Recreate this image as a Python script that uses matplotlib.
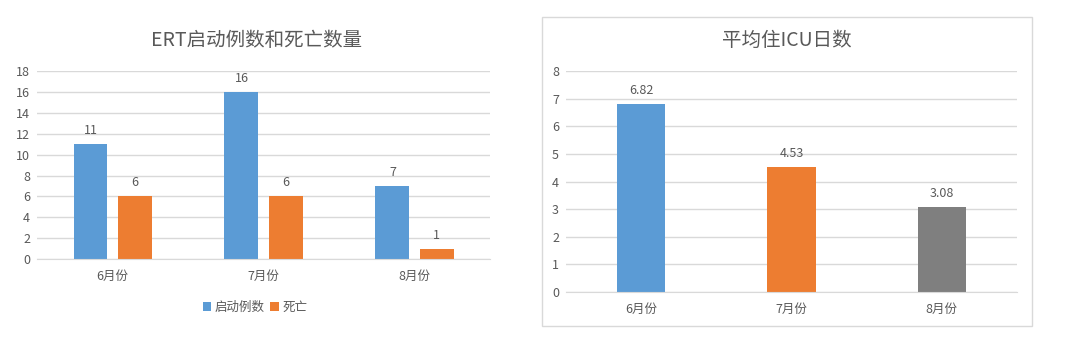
import matplotlib
matplotlib.use("Agg")
import matplotlib.pyplot as plt
from matplotlib.patches import Rectangle
import numpy as np

plt.rcParams['font.family'] = ['Noto Sans CJK SC', 'DejaVu Sans']

months = ["6月份", "7月份", "8月份"]
ert_starts = [11, 16, 7]
deaths = [6, 6, 1]
icu_days = [6.82, 4.53, 3.08]

title_left = "ERT启动例数和死亡数量"
title_right = "平均住ICU日数"
series_names = ["启动例数", "死亡"]

blue = "#5B9BD5"
orange = "#ED7D31"
gray = "#7F7F7F"
grid_c = "#D9D9D9"
text_c = "#595959"

fig = plt.figure(figsize=(10.8, 3.51), dpi=100)


def style_axes(ax, ymax, step):
    ax.set_ylim(0, ymax)
    ax.set_yticks(np.arange(0, ymax + step / 2, step))
    ax.set_xlim(-0.5, 2.5)
    ax.set_xticks(range(len(months)))
    ax.set_xticklabels(months)
    ax.yaxis.grid(True, color=grid_c, linewidth=1)
    ax.set_axisbelow(True)
    for s in ["top", "right", "left"]:
        ax.spines[s].set_visible(False)
    ax.spines["bottom"].set_color(grid_c)
    ax.tick_params(axis="both", length=0, labelsize=9, colors=text_c)
    ax.tick_params(axis="x", pad=8)
    ax.tick_params(axis="y", pad=5)


def label_bars(ax, bars, fmt):
    for b in bars:
        h = b.get_height()
        ax.annotate(fmt.format(h), (b.get_x() + b.get_width() / 2, h),
                    xytext=(0, 5), textcoords="offset points",
                    ha="center", va="bottom", fontsize=9, color=text_c)


# left chart
ax1 = fig.add_axes([0.0343, 0.2621, 0.4194, 0.5348])
x = np.arange(len(months))
w = 0.225
b1 = ax1.bar(x - 0.146, ert_starts, w, color=blue, label=series_names[0])
b2 = ax1.bar(x + 0.146, deaths, w, color=orange, label=series_names[1])
style_axes(ax1, 18, 2)
label_bars(ax1, b1, "{:.0f}")
label_bars(ax1, b2, "{:.0f}")
fig.text(257 / 1080, 1 - 40 / 351, title_left, ha="center", va="center",
         fontsize=14, color=text_c)
fig.legend(handles=[b1, b2], loc="center", bbox_to_anchor=(255 / 1080, 1 - 307 / 351),
           ncol=2, frameon=False, fontsize=9, handlelength=0.7, handleheight=0.7,
           handletextpad=0.3, columnspacing=0.4, labelcolor=text_c)

# right chart
fig.patches.append(Rectangle((0.5016, 0.0712), 0.4537, 0.8812, transform=fig.transFigure,
                             fill=False, edgecolor=grid_c, linewidth=1))
ax2 = fig.add_axes([0.5241, 0.1681, 0.4176, 0.6288])
b3 = ax2.bar(x, icu_days, 0.32, color=[blue, orange, gray])
style_axes(ax2, 8, 1)
label_bars(ax2, b3, "{:.2f}")
fig.text(787 / 1080, 1 - 40 / 351, title_right, ha="center", va="center",
         fontsize=14, color=text_c)

fig.savefig("out.png", dpi=100)
